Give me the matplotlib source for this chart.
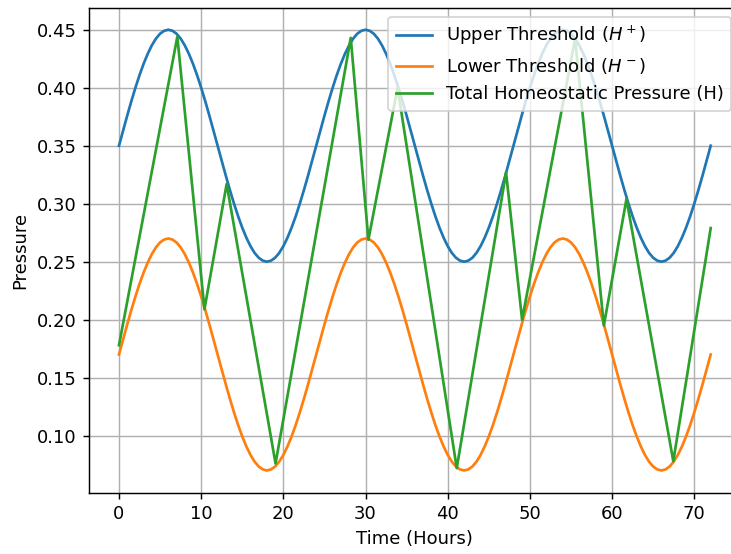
import matplotlib
matplotlib.use('Agg')
import matplotlib.pyplot as plt

# half-hourly readings of the two thresholds, 0..72 h
hours = [i / 2 for i in range(145)]

upper = [0.3500, 0.3631, 0.3759, 0.3883, 0.4000, 0.4109, 0.4207, 0.4293, 0.4366, 0.4424, 0.4466, 0.4491,
         0.4500, 0.4491, 0.4466, 0.4424, 0.4366, 0.4293, 0.4207, 0.4109, 0.4000, 0.3883, 0.3759, 0.3631,
         0.3500, 0.3369, 0.3241, 0.3117, 0.3000, 0.2891, 0.2793, 0.2707, 0.2634, 0.2576, 0.2534, 0.2509,
         0.2500, 0.2509, 0.2534, 0.2576, 0.2634, 0.2707, 0.2793, 0.2891, 0.3000, 0.3117, 0.3241, 0.3369,
         0.3500, 0.3631, 0.3759, 0.3883, 0.4000, 0.4109, 0.4207, 0.4293, 0.4366, 0.4424, 0.4466, 0.4491,
         0.4500, 0.4491, 0.4466, 0.4424, 0.4366, 0.4293, 0.4207, 0.4109, 0.4000, 0.3883, 0.3759, 0.3631,
         0.3500, 0.3369, 0.3241, 0.3117, 0.3000, 0.2891, 0.2793, 0.2707, 0.2634, 0.2576, 0.2534, 0.2509,
         0.2500, 0.2509, 0.2534, 0.2576, 0.2634, 0.2707, 0.2793, 0.2891, 0.3000, 0.3117, 0.3241, 0.3369,
         0.3500, 0.3631, 0.3759, 0.3883, 0.4000, 0.4109, 0.4207, 0.4293, 0.4366, 0.4424, 0.4466, 0.4491,
         0.4500, 0.4491, 0.4466, 0.4424, 0.4366, 0.4293, 0.4207, 0.4109, 0.4000, 0.3883, 0.3759, 0.3631,
         0.3500, 0.3369, 0.3241, 0.3117, 0.3000, 0.2891, 0.2793, 0.2707, 0.2634, 0.2576, 0.2534, 0.2509,
         0.2500, 0.2509, 0.2534, 0.2576, 0.2634, 0.2707, 0.2793, 0.2891, 0.3000, 0.3117, 0.3241, 0.3369,
         0.3500]

lower = [0.1700, 0.1831, 0.1959, 0.2083, 0.2200, 0.2309, 0.2407, 0.2493, 0.2566, 0.2624, 0.2666, 0.2691,
         0.2700, 0.2691, 0.2666, 0.2624, 0.2566, 0.2493, 0.2407, 0.2309, 0.2200, 0.2083, 0.1959, 0.1831,
         0.1700, 0.1569, 0.1441, 0.1317, 0.1200, 0.1091, 0.0993, 0.0907, 0.0834, 0.0776, 0.0734, 0.0709,
         0.0700, 0.0709, 0.0734, 0.0776, 0.0834, 0.0907, 0.0993, 0.1091, 0.1200, 0.1317, 0.1441, 0.1569,
         0.1700, 0.1831, 0.1959, 0.2083, 0.2200, 0.2309, 0.2407, 0.2493, 0.2566, 0.2624, 0.2666, 0.2691,
         0.2700, 0.2691, 0.2666, 0.2624, 0.2566, 0.2493, 0.2407, 0.2309, 0.2200, 0.2083, 0.1959, 0.1831,
         0.1700, 0.1569, 0.1441, 0.1317, 0.1200, 0.1091, 0.0993, 0.0907, 0.0834, 0.0776, 0.0734, 0.0709,
         0.0700, 0.0709, 0.0734, 0.0776, 0.0834, 0.0907, 0.0993, 0.1091, 0.1200, 0.1317, 0.1441, 0.1569,
         0.1700, 0.1831, 0.1959, 0.2083, 0.2200, 0.2309, 0.2407, 0.2493, 0.2566, 0.2624, 0.2666, 0.2691,
         0.2700, 0.2691, 0.2666, 0.2624, 0.2566, 0.2493, 0.2407, 0.2309, 0.2200, 0.2083, 0.1959, 0.1831,
         0.1700, 0.1569, 0.1441, 0.1317, 0.1200, 0.1091, 0.0993, 0.0907, 0.0834, 0.0776, 0.0734, 0.0709,
         0.0700, 0.0709, 0.0734, 0.0776, 0.0834, 0.0907, 0.0993, 0.1091, 0.1200, 0.1317, 0.1441, 0.1569,
         0.1700]

# turning points of the total pressure
pressure_t = [0.0, 7.1, 10.4, 13.1, 19.05, 28.2, 30.35, 33.9, 41.1, 47.1, 49.05, 55.5,
              59.0, 61.75, 67.45, 72.0]
pressure_h = [0.178, 0.444, 0.209, 0.317, 0.076, 0.443, 0.269, 0.400, 0.072, 0.327, 0.200, 0.442,
              0.195, 0.304, 0.078, 0.279]

fig = plt.figure(figsize=(731 / 130, 554 / 130), dpi=130)
ax = fig.add_axes([0.1223, 0.1110, 0.8904, 0.8751])

ax.plot(hours, upper, label='Upper Threshold ($H^+$)')
ax.plot(hours, lower, label='Lower Threshold ($H^-$)')
ax.plot(pressure_t, pressure_h, label='Total Homeostatic Pressure (H)')

ax.set_xlabel('Time (Hours)')
ax.set_ylabel('Pressure')
ax.grid(True)
ax.legend(loc='upper right')

fig.savefig('out.png', dpi=130)
